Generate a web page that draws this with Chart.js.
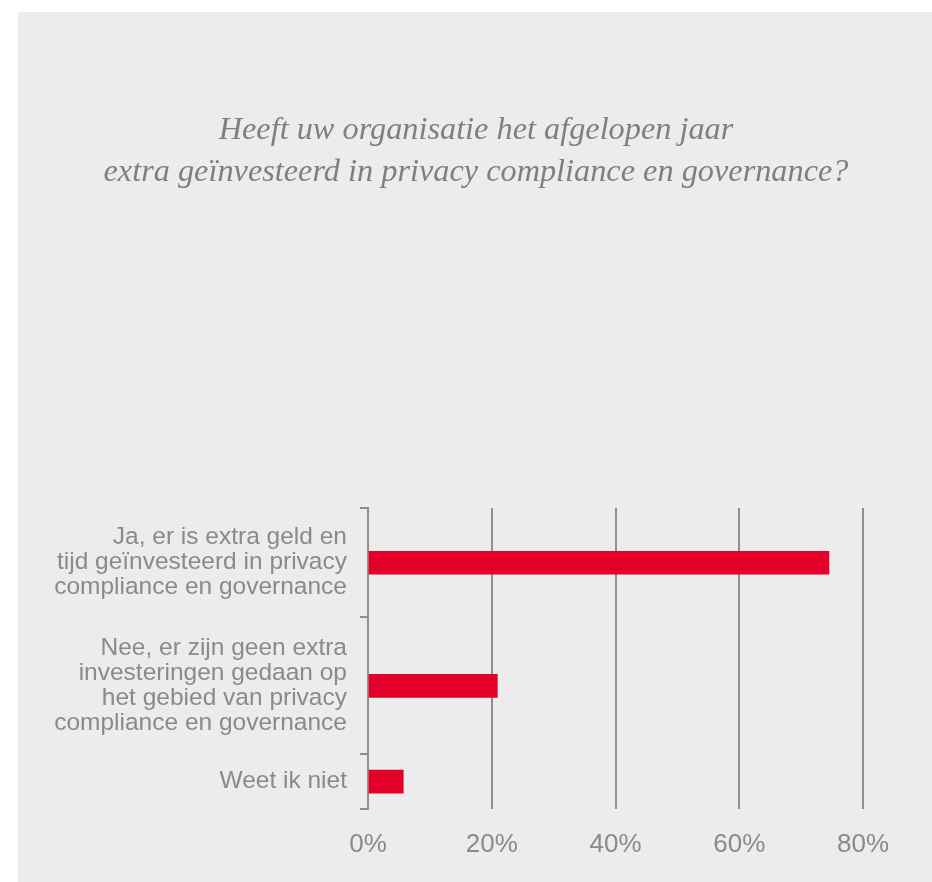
<!DOCTYPE html>
<html>
<head>
<meta charset="utf-8">
<script src="https://cdn.jsdelivr.net/npm/chart.js@4.4.1/dist/chart.umd.min.js"></script>
<style>
  html, body { margin: 0; padding: 0; background: #ffffff; }
  #panel { position: absolute; left: 18px; top: 12px; width: 914px; height: 870px; background: #ececec; }
  canvas { display: block; }
</style>
</head>
<body>
<div id="panel"><canvas id="c" width="914" height="870"></canvas></div>
<script>
// ---- data ----
const titleLines = [
  "Heeft uw organisatie het afgelopen jaar",
  "extra geïnvesteerd in privacy compliance en governance?"
];
const categories = [
  ["Ja, er is extra geld en", "tijd geïnvesteerd in privacy", "compliance en governance"],
  ["Nee, er zijn geen extra", "investeringen gedaan op", "het gebied van privacy", "compliance en governance"],
  ["Weet ik niet"]
];
const values = [74.5, 20.9, 5.7];
const xTickValues = [0, 20, 40, 60, 80];
const xTickSuffix = "%";

// ---- derived category bands (band size follows label line count) ----
const bandWeights = categories.map(c => c.length + 1);
const bandBounds = [0];
bandWeights.forEach(w => bandBounds.push(bandBounds[bandBounds.length - 1] + w));
const bandCenters = bandWeights.map((w, i) => bandBounds[i] + w / 2);

const GRAY = '#8f8f8f';
const RED = '#e3002b';

const isCenter = v => bandCenters.some(c => Math.abs(c - v) < 1e-9);

new Chart(document.getElementById('c'), {
  type: 'bar',
  data: {
    datasets: [{
      data: values.map((v, i) => ({ x: v, y: bandCenters[i] })),
      backgroundColor: RED,
      borderWidth: 0,
      barThickness: 23
    }]
  },
  options: {
    indexAxis: 'y',
    responsive: false,
    animation: false,
    devicePixelRatio: 1,
    layout: { padding: { left: 36, right: 34, top: 0, bottom: 28 } },
    plugins: {
      legend: { display: false },
      tooltip: { enabled: false },
      title: {
        display: true,
        text: titleLines,
        color: '#7f7f7f',
        font: { family: "'Liberation Serif', serif", style: 'italic', size: 32.3, weight: 'normal', lineHeight: 42 / 32.3 },
        padding: { top: 98, bottom: 314 }
      }
    },
    scales: {
      x: {
        type: 'linear',
        position: 'bottom',
        min: xTickValues[0],
        max: xTickValues[xTickValues.length - 1],
        afterBuildTicks: s => { s.ticks = xTickValues.map(v => ({ value: v })); },
        afterFit: s => { s.height = 45; s.paddingRight = 69; },
        ticks: {
          callback: v => v + xTickSuffix,
          color: '#8a8a8a',
          font: { family: "'Liberation Sans', Arial, sans-serif", size: 26 },
          padding: 20,
          maxRotation: 0
        },
        grid: { color: GRAY, lineWidth: 2, drawTicks: false },
        border: { display: false }
      },
      y: {
        type: 'linear',
        reverse: true,
        offset: false,
        min: bandBounds[0],
        max: bandBounds[bandBounds.length - 1],
        afterBuildTicks: s => {
          const vals = bandBounds.concat(bandCenters).sort((a, b) => a - b);
          s.ticks = vals.map(v => ({ value: v }));
        },
        afterFit: s => { s.width = 314; s.paddingTop = 0; s.paddingBottom = 0; },
        ticks: {
          autoSkip: false,
          callback: v => {
            const i = bandCenters.findIndex(c => Math.abs(c - v) < 1e-9);
            return i >= 0 ? categories[i] : '';
          },
          color: '#8a8a8a',
          font: { family: "'Liberation Sans', Arial, sans-serif", size: 24.5, lineHeight: 25 / 24.5 },
          padding: 13
        },
        grid: {
          offset: false,
          drawOnChartArea: false,
          tickLength: 8,
          lineWidth: 2,
          color: ctx => (ctx.tick && isCenter(ctx.tick.value)) ? 'rgba(0,0,0,0)' : GRAY
        },
        border: { display: true, color: GRAY, width: 2 }
      }
    }
  }
});
</script>
</body>
</html>
